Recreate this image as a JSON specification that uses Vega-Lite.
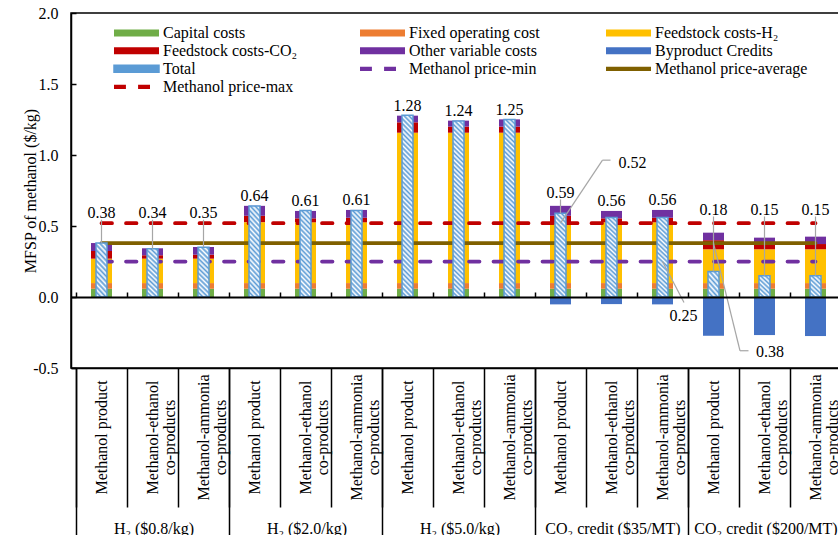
{
  "$schema": "https://vega.github.io/schema/vega-lite/v6.json",
  "width": 775,
  "height": 355,
  "autosize": {"type": "none"},
  "padding": {"left": 71, "top": 13, "right": -8, "bottom": 167},
  "background": "white",
  "config": {
    "font": "Liberation Serif",
    "view": {"stroke": "black", "strokeWidth": 1.5},
    "axis": {
      "labelFont": "Liberation Serif", "labelFontSize": 16, "labelColor": "black",
      "titleFont": "Liberation Serif", "titleFontSize": 16, "titleFontWeight": "normal", "titleColor": "black",
      "domainColor": "black", "tickColor": "black", "grid": false
    },
    "text": {"font": "Liberation Serif", "fontSize": 16, "color": "black"}
  },
  "datasets": {
    "costs": [
      {"case": 1, "Capital costs": 0.058, "Fixed operating cost": 0.040, "Feedstock costs-H₂": 0.172, "Feedstock costs-CO₂": 0.054, "Other variable costs": 0.056, "Byproduct Credits": 0, "total": 0.38},
      {"case": 2, "Capital costs": 0.058, "Fixed operating cost": 0.040, "Feedstock costs-H₂": 0.172, "Feedstock costs-CO₂": 0.024, "Other variable costs": 0.049, "Byproduct Credits": 0, "total": 0.34},
      {"case": 3, "Capital costs": 0.058, "Fixed operating cost": 0.040, "Feedstock costs-H₂": 0.172, "Feedstock costs-CO₂": 0.028, "Other variable costs": 0.054, "Byproduct Credits": 0, "total": 0.35},
      {"case": 4, "Capital costs": 0.058, "Fixed operating cost": 0.040, "Feedstock costs-H₂": 0.429, "Feedstock costs-CO₂": 0.045, "Other variable costs": 0.070, "Byproduct Credits": 0, "total": 0.64},
      {"case": 5, "Capital costs": 0.058, "Fixed operating cost": 0.040, "Feedstock costs-H₂": 0.428, "Feedstock costs-CO₂": 0.028, "Other variable costs": 0.052, "Byproduct Credits": 0, "total": 0.61},
      {"case": 6, "Capital costs": 0.058, "Fixed operating cost": 0.040, "Feedstock costs-H₂": 0.428, "Feedstock costs-CO₂": 0.032, "Other variable costs": 0.055, "Byproduct Credits": 0, "total": 0.61},
      {"case": 7, "Capital costs": 0.058, "Fixed operating cost": 0.040, "Feedstock costs-H₂": 1.059, "Feedstock costs-CO₂": 0.073, "Other variable costs": 0.047, "Byproduct Credits": 0, "total": 1.28},
      {"case": 8, "Capital costs": 0.058, "Fixed operating cost": 0.040, "Feedstock costs-H₂": 1.059, "Feedstock costs-CO₂": 0.043, "Other variable costs": 0.042, "Byproduct Credits": 0, "total": 1.24},
      {"case": 9, "Capital costs": 0.058, "Fixed operating cost": 0.040, "Feedstock costs-H₂": 1.059, "Feedstock costs-CO₂": 0.043, "Other variable costs": 0.051, "Byproduct Credits": 0, "total": 1.25},
      {"case": 10, "Capital costs": 0.058, "Fixed operating cost": 0.040, "Feedstock costs-H₂": 0.429, "Feedstock costs-CO₂": 0.045, "Other variable costs": 0.070, "Byproduct Credits": -0.052, "total": 0.59},
      {"case": 11, "Capital costs": 0.058, "Fixed operating cost": 0.040, "Feedstock costs-H₂": 0.428, "Feedstock costs-CO₂": 0.028, "Other variable costs": 0.052, "Byproduct Credits": -0.050, "total": 0.56},
      {"case": 12, "Capital costs": 0.058, "Fixed operating cost": 0.040, "Feedstock costs-H₂": 0.428, "Feedstock costs-CO₂": 0.032, "Other variable costs": 0.055, "Byproduct Credits": -0.052, "total": 0.56},
      {"case": 13, "Capital costs": 0.058, "Fixed operating cost": 0.040, "Feedstock costs-H₂": 0.238, "Feedstock costs-CO₂": 0.064, "Other variable costs": 0.053, "Byproduct Credits": -0.273, "total": 0.18},
      {"case": 14, "Capital costs": 0.058, "Fixed operating cost": 0.040, "Feedstock costs-H₂": 0.238, "Feedstock costs-CO₂": 0.037, "Other variable costs": 0.045, "Byproduct Credits": -0.268, "total": 0.15},
      {"case": 15, "Capital costs": 0.058, "Fixed operating cost": 0.040, "Feedstock costs-H₂": 0.238, "Feedstock costs-CO₂": 0.037, "Other variable costs": 0.052, "Byproduct Credits": -0.275, "total": 0.15}
    ],
    "prices": [
      {"series": "Methanol price-min", "value": 0.25, "first": 1, "last": 15, "labelled": 12},
      {"series": "Methanol price-average", "value": 0.38, "first": 1, "last": 15, "labelled": 13},
      {"series": "Methanol price-max", "value": 0.52, "first": 1, "last": 15, "labelled": 10}
    ]
  },
  "resolve": {"axis": {"x": "independent", "y": "independent"}},
  "layer": [
    {
      "data": {"name": "costs"},
      "transform": [
        {"fold": ["Capital costs", "Fixed operating cost", "Feedstock costs-H₂", "Feedstock costs-CO₂", "Other variable costs", "Byproduct Credits"], "as": ["comp", "cost"]},
        {"filter": "datum.cost != 0"},
        {"calculate": "indexof(['Capital costs', 'Fixed operating cost', 'Feedstock costs-H₂', 'Feedstock costs-CO₂', 'Other variable costs', 'Byproduct Credits'], datum.comp)", "as": "stack_order"}
      ],
      "mark": {"type": "bar", "size": 21},
      "encoding": {
        "x": {
          "field": "case", "type": "quantitative",
          "scale": {"domain": [0.5, 15.5], "nice": false, "zero": false},
          "axis": {
            "orient": "bottom", "title": null,
            "values": [0.5, 1.5, 2.5, 3.5, 4.5, 5.5, 6.5, 7.5, 8.5, 9.5, 10.5, 11.5, 12.5, 13.5, 14.5, 15.5],
            "domain": true, "domainWidth": 1.5, "ticks": true, "tickSize": 139, "tickWidth": 1.5,
            "labelExpr": "datum.value > 15 ? '' : split(['Methanol product', 'Methanol-ethanol|co-products', 'Methanol-ammonia|co-products'][floor(datum.value) % 3], '|')",
            "labelAngle": -90, "labelAlign": "center", "labelBaseline": "middle",
            "labelOffset": 25.83, "labelPadding": -70, "labelLineHeight": 17,
            "labelOverlap": false, "labelFlush": false, "labelBound": false, "labelLimit": 250
          }
        },
        "y": {
          "field": "cost", "type": "quantitative", "stack": "zero",
          "scale": {"domain": [-0.5, 2], "nice": false, "zero": false},
          "axis": {
            "orient": "left", "title": "MFSP of methanol ($/kg)",
            "values": [-0.5, 0, 0.5, 1, 1.5, 2],
            "labelExpr": "datum.value < 0 ? '-' + format(-datum.value, '.1f') : format(datum.value, '.1f')",
            "domainWidth": 1.5, "tickSize": -5, "tickWidth": 1.5, "labelPadding": 18, "titlePadding": -6
          }
        },
        "color": {
          "field": "comp", "type": "nominal",
          "scale": {
            "domain": ["Capital costs", "Feedstock costs-CO₂", "Total", "Methanol price-max", "Fixed operating cost", "Other variable costs", "Methanol price-min", " ", "Feedstock costs-H₂", "Byproduct Credits", "Methanol price-average", "  "],
            "range": ["#70AD47", "#C00000", "#5B9BD5", "#C00000", "#ED7D31", "#7030A0", "#7030A0", "#FFFFFF", "#FFC000", "#4472C4", "#7F6000", "#FFFFFF"]
          },
          "legend": {
            "title": null, "orient": "none", "legendX": 42, "legendY": 11,
            "columns": 3, "gridAlign": "all", "columnPadding": 43, "rowPadding": 0, "clipHeight": 17.7, "padding": 0,
            "symbolSize": 2025, "symbolStrokeWidth": 1.5, "symbolOffset": 0, "symbolType": "M-1,-0.155H1V0.155H-1Z",
            "labelOffset": 3, "labelFont": "Liberation Serif", "labelFontSize": 16, "labelColor": "black", "labelLimit": 250,
            "encode": {
              "symbols": {
                "update": {
                  "shape": {"signal": "datum.value === 'Methanol price-min' || datum.value === 'Methanol price-max' ? 'M-1,-0.09H-0.47V0.09H-1Z M0.07,-0.09H0.6V0.09H0.07Z' : (datum.value === 'Methanol price-average' ? 'M-1,-0.09H1V0.09H-1Z' : 'M-1,-0.155H1V0.155H-1Z')"},
                  "fill": {"signal": "datum.value === 'Total' ? {gradient: 'linear', x1: 0, y1: 1, x2: 1.128, y2: 0.8245, stops: [{offset: 0, color: '#5B9BD5'}, {offset: 0.05, color: '#FFFFFF'}, {offset: 0.1, color: '#5B9BD5'}, {offset: 0.15, color: '#FFFFFF'}, {offset: 0.2, color: '#5B9BD5'}, {offset: 0.25, color: '#FFFFFF'}, {offset: 0.3, color: '#5B9BD5'}, {offset: 0.35, color: '#FFFFFF'}, {offset: 0.4, color: '#5B9BD5'}, {offset: 0.45, color: '#FFFFFF'}, {offset: 0.5, color: '#5B9BD5'}, {offset: 0.55, color: '#FFFFFF'}, {offset: 0.6, color: '#5B9BD5'}, {offset: 0.65, color: '#FFFFFF'}, {offset: 0.7, color: '#5B9BD5'}, {offset: 0.75, color: '#FFFFFF'}, {offset: 0.8, color: '#5B9BD5'}, {offset: 0.85, color: '#FFFFFF'}, {offset: 0.9, color: '#5B9BD5'}, {offset: 0.95, color: '#FFFFFF'}, {offset: 1, color: '#5B9BD5'}]} : ((datum.value === ' ' || datum.value === '  ') ? 'transparent' : scale('color', datum.value))"},
                  "stroke": {"signal": "datum.value === 'Total' ? '#5B9BD5' : 'transparent'"},
                  "opacity": {"value": 1}
                }
              }
            }
          }
        },
        "order": {"field": "stack_order", "type": "quantitative"}
      }
    },
    {
      "data": {"name": "prices"},
      "mark": {"type": "rule", "strokeWidth": 3.75, "strokeCap": "round"},
      "encoding": {
        "x": {
          "field": "first", "type": "quantitative",
          "scale": {"domain": [0.5, 15.5], "nice": false, "zero": false},
          "axis": {
            "orient": "top", "offset": -284, "title": null, "labels": false,
            "values": [0.5, 1.5, 2.5, 3.5, 4.5, 5.5, 6.5, 7.5, 8.5, 9.5, 10.5, 11.5, 12.5, 13.5, 14.5, 15.5],
            "tickSize": 5, "tickWidth": 1.5, "domainWidth": 2, "zindex": 1
          }
        },
        "x2": {"field": "last"},
        "y": {"field": "value", "type": "quantitative", "scale": {"domain": [-0.5, 2], "nice": false, "zero": false}, "axis": null},
        "color": {
          "condition": [
            {"test": "datum.series === 'Methanol price-min'", "value": "#7030A0"},
            {"test": "datum.series === 'Methanol price-average'", "value": "#7F6000"}
          ],
          "value": "#C00000"
        },
        "strokeDash": {"condition": {"test": "datum.series === 'Methanol price-average'", "value": [1, 0]}, "value": [10.5, 14]}
      }
    },
    {
      "data": {"name": "costs"},
      "transform": [{"filter": {"field": "case", "oneOf": [7, 8, 9]}}],
      "mark": {
        "type": "bar", "size": 11, "stroke": "#5B9BD5", "strokeWidth": 1.5,
        "fill": {"gradient": "linear", "x1": 0, "y1": 1, "x2": 0.065, "y2": -0.058, "stops": [
          {"offset": 0, "color": "#5B9BD5"}, {"offset": 0.0125, "color": "#FFFFFF"}, {"offset": 0.025, "color": "#5B9BD5"}, {"offset": 0.0375, "color": "#FFFFFF"},
          {"offset": 0.05, "color": "#5B9BD5"}, {"offset": 0.0625, "color": "#FFFFFF"}, {"offset": 0.075, "color": "#5B9BD5"}, {"offset": 0.0875, "color": "#FFFFFF"},
          {"offset": 0.1, "color": "#5B9BD5"}, {"offset": 0.1125, "color": "#FFFFFF"}, {"offset": 0.125, "color": "#5B9BD5"}, {"offset": 0.1375, "color": "#FFFFFF"},
          {"offset": 0.15, "color": "#5B9BD5"}, {"offset": 0.1625, "color": "#FFFFFF"}, {"offset": 0.175, "color": "#5B9BD5"}, {"offset": 0.1875, "color": "#FFFFFF"},
          {"offset": 0.2, "color": "#5B9BD5"}, {"offset": 0.2125, "color": "#FFFFFF"}, {"offset": 0.225, "color": "#5B9BD5"}, {"offset": 0.2375, "color": "#FFFFFF"},
          {"offset": 0.25, "color": "#5B9BD5"}, {"offset": 0.2625, "color": "#FFFFFF"}, {"offset": 0.275, "color": "#5B9BD5"}, {"offset": 0.2875, "color": "#FFFFFF"},
          {"offset": 0.3, "color": "#5B9BD5"}, {"offset": 0.3125, "color": "#FFFFFF"}, {"offset": 0.325, "color": "#5B9BD5"}, {"offset": 0.3375, "color": "#FFFFFF"},
          {"offset": 0.35, "color": "#5B9BD5"}, {"offset": 0.3625, "color": "#FFFFFF"}, {"offset": 0.375, "color": "#5B9BD5"}, {"offset": 0.3875, "color": "#FFFFFF"},
          {"offset": 0.4, "color": "#5B9BD5"}, {"offset": 0.4125, "color": "#FFFFFF"}, {"offset": 0.425, "color": "#5B9BD5"}, {"offset": 0.4375, "color": "#FFFFFF"},
          {"offset": 0.45, "color": "#5B9BD5"}, {"offset": 0.4625, "color": "#FFFFFF"}, {"offset": 0.475, "color": "#5B9BD5"}, {"offset": 0.4875, "color": "#FFFFFF"},
          {"offset": 0.5, "color": "#5B9BD5"}, {"offset": 0.5125, "color": "#FFFFFF"}, {"offset": 0.525, "color": "#5B9BD5"}, {"offset": 0.5375, "color": "#FFFFFF"},
          {"offset": 0.55, "color": "#5B9BD5"}, {"offset": 0.5625, "color": "#FFFFFF"}, {"offset": 0.575, "color": "#5B9BD5"}, {"offset": 0.5875, "color": "#FFFFFF"},
          {"offset": 0.6, "color": "#5B9BD5"}, {"offset": 0.6125, "color": "#FFFFFF"}, {"offset": 0.625, "color": "#5B9BD5"}, {"offset": 0.6375, "color": "#FFFFFF"},
          {"offset": 0.65, "color": "#5B9BD5"}, {"offset": 0.6625, "color": "#FFFFFF"}, {"offset": 0.675, "color": "#5B9BD5"}, {"offset": 0.6875, "color": "#FFFFFF"},
          {"offset": 0.7, "color": "#5B9BD5"}, {"offset": 0.7125, "color": "#FFFFFF"}, {"offset": 0.725, "color": "#5B9BD5"}, {"offset": 0.7375, "color": "#FFFFFF"},
          {"offset": 0.75, "color": "#5B9BD5"}, {"offset": 0.7625, "color": "#FFFFFF"}, {"offset": 0.775, "color": "#5B9BD5"}, {"offset": 0.7875, "color": "#FFFFFF"},
          {"offset": 0.8, "color": "#5B9BD5"}, {"offset": 0.8125, "color": "#FFFFFF"}, {"offset": 0.825, "color": "#5B9BD5"}, {"offset": 0.8375, "color": "#FFFFFF"},
          {"offset": 0.85, "color": "#5B9BD5"}, {"offset": 0.8625, "color": "#FFFFFF"}, {"offset": 0.875, "color": "#5B9BD5"}, {"offset": 0.8875, "color": "#FFFFFF"},
          {"offset": 0.9, "color": "#5B9BD5"}, {"offset": 0.9125, "color": "#FFFFFF"}, {"offset": 0.925, "color": "#5B9BD5"}, {"offset": 0.9375, "color": "#FFFFFF"},
          {"offset": 0.95, "color": "#5B9BD5"}, {"offset": 0.9625, "color": "#FFFFFF"}, {"offset": 0.975, "color": "#5B9BD5"}, {"offset": 0.9875, "color": "#FFFFFF"},
          {"offset": 1, "color": "#5B9BD5"}
        ]}
      },
      "encoding": {
        "x": {
          "field": "case", "type": "quantitative",
          "scale": {"domain": [0.5, 15.5], "nice": false, "zero": false},
          "axis": {
            "orient": "bottom", "title": null,
            "values": [0.5, 3.5, 6.5, 9.5, 12.5, 15.5],
            "domain": false, "tickSize": 175, "tickWidth": 1.5,
            "labelExpr": "datum.value > 15 ? '' : ['H₂ ($0.8/kg)', 'H₂ ($2.0/kg)', 'H₂ ($5.0/kg)', 'CO₂ credit  ($35/MT)', 'CO₂ credit  ($200/MT)'][floor(datum.value / 3)]",
            "labelAngle": 0, "labelAlign": "center", "labelBaseline": "middle",
            "labelOffset": 77.5, "labelPadding": -15,
            "labelOverlap": false, "labelFlush": false, "labelBound": false, "labelLimit": 300
          }
        },
        "y": {"field": "total", "type": "quantitative", "scale": {"domain": [-0.5, 2], "nice": false, "zero": false}, "axis": null},
        "y2": {"datum": 0}
      }
    },
    {
      "data": {"name": "costs"},
      "transform": [{"filter": {"field": "case", "oneOf": [4, 5, 6, 10, 11, 12]}}],
      "mark": {
        "type": "bar", "size": 11, "stroke": "#5B9BD5", "strokeWidth": 1.5,
        "fill": {"gradient": "linear", "x1": 0, "y1": 1, "x2": 0.145, "y2": -0.111, "stops": [
          {"offset": 0, "color": "#5B9BD5"}, {"offset": 0.025, "color": "#FFFFFF"}, {"offset": 0.05, "color": "#5B9BD5"}, {"offset": 0.075, "color": "#FFFFFF"},
          {"offset": 0.1, "color": "#5B9BD5"}, {"offset": 0.125, "color": "#FFFFFF"}, {"offset": 0.15, "color": "#5B9BD5"}, {"offset": 0.175, "color": "#FFFFFF"},
          {"offset": 0.2, "color": "#5B9BD5"}, {"offset": 0.225, "color": "#FFFFFF"}, {"offset": 0.25, "color": "#5B9BD5"}, {"offset": 0.275, "color": "#FFFFFF"},
          {"offset": 0.3, "color": "#5B9BD5"}, {"offset": 0.325, "color": "#FFFFFF"}, {"offset": 0.35, "color": "#5B9BD5"}, {"offset": 0.375, "color": "#FFFFFF"},
          {"offset": 0.4, "color": "#5B9BD5"}, {"offset": 0.425, "color": "#FFFFFF"}, {"offset": 0.45, "color": "#5B9BD5"}, {"offset": 0.475, "color": "#FFFFFF"},
          {"offset": 0.5, "color": "#5B9BD5"}, {"offset": 0.525, "color": "#FFFFFF"}, {"offset": 0.55, "color": "#5B9BD5"}, {"offset": 0.575, "color": "#FFFFFF"},
          {"offset": 0.6, "color": "#5B9BD5"}, {"offset": 0.625, "color": "#FFFFFF"}, {"offset": 0.65, "color": "#5B9BD5"}, {"offset": 0.675, "color": "#FFFFFF"},
          {"offset": 0.7, "color": "#5B9BD5"}, {"offset": 0.725, "color": "#FFFFFF"}, {"offset": 0.75, "color": "#5B9BD5"}, {"offset": 0.775, "color": "#FFFFFF"},
          {"offset": 0.8, "color": "#5B9BD5"}, {"offset": 0.825, "color": "#FFFFFF"}, {"offset": 0.85, "color": "#5B9BD5"}, {"offset": 0.875, "color": "#FFFFFF"},
          {"offset": 0.9, "color": "#5B9BD5"}, {"offset": 0.925, "color": "#FFFFFF"}, {"offset": 0.95, "color": "#5B9BD5"}, {"offset": 0.975, "color": "#FFFFFF"},
          {"offset": 1, "color": "#5B9BD5"}
        ]}
      },
      "encoding": {
        "x": {"field": "case", "type": "quantitative", "scale": {"domain": [0.5, 15.5], "nice": false, "zero": false}, "axis": null},
        "y": {"field": "total", "type": "quantitative", "scale": {"domain": [-0.5, 2], "nice": false, "zero": false}, "axis": null},
        "y2": {"datum": 0}
      }
    },
    {
      "data": {"name": "costs"},
      "transform": [{"filter": {"field": "case", "oneOf": [1, 2, 3]}}],
      "mark": {
        "type": "bar", "size": 11, "stroke": "#5B9BD5", "strokeWidth": 1.5,
        "fill": {"gradient": "linear", "x1": 0, "y1": 1, "x2": 0.252, "y2": -0.163, "stops": [
          {"offset": 0, "color": "#5B9BD5"}, {"offset": 0.04, "color": "#FFFFFF"}, {"offset": 0.08, "color": "#5B9BD5"}, {"offset": 0.12, "color": "#FFFFFF"},
          {"offset": 0.16, "color": "#5B9BD5"}, {"offset": 0.2, "color": "#FFFFFF"}, {"offset": 0.24, "color": "#5B9BD5"}, {"offset": 0.28, "color": "#FFFFFF"},
          {"offset": 0.32, "color": "#5B9BD5"}, {"offset": 0.36, "color": "#FFFFFF"}, {"offset": 0.4, "color": "#5B9BD5"}, {"offset": 0.44, "color": "#FFFFFF"},
          {"offset": 0.48, "color": "#5B9BD5"}, {"offset": 0.52, "color": "#FFFFFF"}, {"offset": 0.56, "color": "#5B9BD5"}, {"offset": 0.6, "color": "#FFFFFF"},
          {"offset": 0.64, "color": "#5B9BD5"}, {"offset": 0.68, "color": "#FFFFFF"}, {"offset": 0.72, "color": "#5B9BD5"}, {"offset": 0.76, "color": "#FFFFFF"},
          {"offset": 0.8, "color": "#5B9BD5"}, {"offset": 0.84, "color": "#FFFFFF"}, {"offset": 0.88, "color": "#5B9BD5"}, {"offset": 0.92, "color": "#FFFFFF"},
          {"offset": 0.96, "color": "#5B9BD5"}, {"offset": 1, "color": "#FFFFFF"}
        ]}
      },
      "encoding": {
        "x": {"field": "case", "type": "quantitative", "scale": {"domain": [0.5, 15.5], "nice": false, "zero": false}, "axis": null},
        "y": {"field": "total", "type": "quantitative", "scale": {"domain": [-0.5, 2], "nice": false, "zero": false}, "axis": null},
        "y2": {"datum": 0}
      }
    },
    {
      "data": {"name": "costs"},
      "transform": [{"filter": {"field": "case", "oneOf": [13, 14, 15]}}],
      "mark": {
        "type": "bar", "size": 11, "stroke": "#5B9BD5", "strokeWidth": 1.5,
        "fill": {"gradient": "linear", "x1": 0, "y1": 1, "x2": 0.583, "y2": -0.203, "stops": [
          {"offset": 0, "color": "#5B9BD5"}, {"offset": 0.0714, "color": "#FFFFFF"}, {"offset": 0.1429, "color": "#5B9BD5"}, {"offset": 0.2143, "color": "#FFFFFF"},
          {"offset": 0.2857, "color": "#5B9BD5"}, {"offset": 0.3571, "color": "#FFFFFF"}, {"offset": 0.4286, "color": "#5B9BD5"}, {"offset": 0.5, "color": "#FFFFFF"},
          {"offset": 0.5714, "color": "#5B9BD5"}, {"offset": 0.6429, "color": "#FFFFFF"}, {"offset": 0.7143, "color": "#5B9BD5"}, {"offset": 0.7857, "color": "#FFFFFF"},
          {"offset": 0.8571, "color": "#5B9BD5"}, {"offset": 0.9286, "color": "#FFFFFF"}, {"offset": 1, "color": "#5B9BD5"}
        ]}
      },
      "encoding": {
        "x": {"field": "case", "type": "quantitative", "scale": {"domain": [0.5, 15.5], "nice": false, "zero": false}, "axis": null},
        "y": {"field": "total", "type": "quantitative", "scale": {"domain": [-0.5, 2], "nice": false, "zero": false}, "axis": null},
        "y2": {"datum": 0}
      }
    },
    {
      "data": {"name": "costs"},
      "transform": [
        {"filter": "indexof([1, 2, 3, 10, 13, 14, 15], datum.case) >= 0"},
        {"calculate": "datum.case <= 3 ? 0.592 : (datum.case == 10 ? 0.735 : 0.615)", "as": "label_at"},
        {"calculate": "datum.label_at - 0.048", "as": "leader_top"}
      ],
      "mark": {"type": "rule", "color": "#A6A6A6", "strokeWidth": 1.2},
      "encoding": {
        "x": {"field": "case", "type": "quantitative", "scale": {"domain": [0.5, 15.5], "nice": false, "zero": false}, "axis": null},
        "y": {"field": "leader_top", "type": "quantitative", "scale": {"domain": [-0.5, 2], "nice": false, "zero": false}, "axis": null},
        "y2": {"field": "total"}
      }
    },
    {
      "data": {"name": "costs"},
      "transform": [
        {"calculate": "max(datum['Capital costs'] + datum['Fixed operating cost'] + datum['Feedstock costs-H₂'] + datum['Feedstock costs-CO₂'] + datum['Other variable costs'], datum.total)", "as": "top"},
        {"calculate": "datum.case <= 3 ? 0.592 : (datum.case == 10 ? 0.735 : (datum.case >= 13 ? 0.615 : datum.top + 0.068))", "as": "label_at"}
      ],
      "mark": {"type": "text", "align": "center", "baseline": "middle"},
      "encoding": {
        "x": {"field": "case", "type": "quantitative", "scale": {"domain": [0.5, 15.5], "nice": false, "zero": false}, "axis": null},
        "y": {"field": "label_at", "type": "quantitative", "scale": {"domain": [-0.5, 2], "nice": false, "zero": false}, "axis": null},
        "text": {"field": "total", "type": "quantitative", "format": ".2f"}
      }
    },
    {
      "data": {"name": "prices"},
      "transform": [{"filter": "datum.series === 'Methanol price-max'"}],
      "mark": {"type": "rule", "color": "#A6A6A6", "strokeWidth": 1.2, "x2Offset": 42, "y2Offset": -63},
      "encoding": {
        "x": {"field": "labelled", "type": "quantitative", "scale": {"domain": [0.5, 15.5], "nice": false, "zero": false}, "axis": null},
        "x2": {"field": "labelled"},
        "y": {"field": "value", "type": "quantitative", "scale": {"domain": [-0.5, 2], "nice": false, "zero": false}, "axis": null},
        "y2": {"field": "value"}
      }
    },
    {
      "data": {"name": "prices"},
      "transform": [{"filter": "datum.series === 'Methanol price-max'"}],
      "mark": {"type": "rule", "color": "#A6A6A6", "strokeWidth": 1.2, "xOffset": 42, "yOffset": -63, "x2Offset": 50, "y2Offset": -63},
      "encoding": {
        "x": {"field": "labelled", "type": "quantitative", "scale": {"domain": [0.5, 15.5], "nice": false, "zero": false}, "axis": null},
        "x2": {"field": "labelled"},
        "y": {"field": "value", "type": "quantitative", "scale": {"domain": [-0.5, 2], "nice": false, "zero": false}, "axis": null},
        "y2": {"field": "value"}
      }
    },
    {
      "data": {"name": "prices"},
      "transform": [{"filter": "datum.series === 'Methanol price-max'"}],
      "mark": {"type": "text", "align": "left", "baseline": "middle", "dx": 58, "dy": -60},
      "encoding": {
        "x": {"field": "labelled", "type": "quantitative", "scale": {"domain": [0.5, 15.5], "nice": false, "zero": false}, "axis": null},
        "y": {"field": "value", "type": "quantitative", "scale": {"domain": [-0.5, 2], "nice": false, "zero": false}, "axis": null},
        "text": {"field": "value", "type": "quantitative", "format": ".2f"}
      }
    },
    {
      "data": {"name": "prices"},
      "transform": [{"filter": "datum.series === 'Methanol price-min'"}],
      "mark": {"type": "rule", "color": "#A6A6A6", "strokeWidth": 1.2, "x2Offset": 21.5, "y2Offset": 41},
      "encoding": {
        "x": {"field": "labelled", "type": "quantitative", "scale": {"domain": [0.5, 15.5], "nice": false, "zero": false}, "axis": null},
        "x2": {"field": "labelled"},
        "y": {"field": "value", "type": "quantitative", "scale": {"domain": [-0.5, 2], "nice": false, "zero": false}, "axis": null},
        "y2": {"field": "value"}
      }
    },
    {
      "data": {"name": "prices"},
      "transform": [{"filter": "datum.series === 'Methanol price-min'"}],
      "mark": {"type": "text", "align": "center", "baseline": "middle", "dx": 21, "dy": 54.5},
      "encoding": {
        "x": {"field": "labelled", "type": "quantitative", "scale": {"domain": [0.5, 15.5], "nice": false, "zero": false}, "axis": null},
        "y": {"field": "value", "type": "quantitative", "scale": {"domain": [-0.5, 2], "nice": false, "zero": false}, "axis": null},
        "text": {"field": "value", "type": "quantitative", "format": ".2f"}
      }
    },
    {
      "data": {"name": "prices"},
      "transform": [{"filter": "datum.series === 'Methanol price-average'"}],
      "mark": {"type": "rule", "color": "#A6A6A6", "strokeWidth": 1.2, "x2Offset": 26.5, "y2Offset": 107.7},
      "encoding": {
        "x": {"field": "labelled", "type": "quantitative", "scale": {"domain": [0.5, 15.5], "nice": false, "zero": false}, "axis": null},
        "x2": {"field": "labelled"},
        "y": {"field": "value", "type": "quantitative", "scale": {"domain": [-0.5, 2], "nice": false, "zero": false}, "axis": null},
        "y2": {"field": "value"}
      }
    },
    {
      "data": {"name": "prices"},
      "transform": [{"filter": "datum.series === 'Methanol price-average'"}],
      "mark": {"type": "rule", "color": "#A6A6A6", "strokeWidth": 1.2, "xOffset": 26.5, "yOffset": 107.7, "x2Offset": 35, "y2Offset": 107.7},
      "encoding": {
        "x": {"field": "labelled", "type": "quantitative", "scale": {"domain": [0.5, 15.5], "nice": false, "zero": false}, "axis": null},
        "x2": {"field": "labelled"},
        "y": {"field": "value", "type": "quantitative", "scale": {"domain": [-0.5, 2], "nice": false, "zero": false}, "axis": null},
        "y2": {"field": "value"}
      }
    },
    {
      "data": {"name": "prices"},
      "transform": [{"filter": "datum.series === 'Methanol price-average'"}],
      "mark": {"type": "text", "align": "left", "baseline": "middle", "dx": 42.5, "dy": 109},
      "encoding": {
        "x": {"field": "labelled", "type": "quantitative", "scale": {"domain": [0.5, 15.5], "nice": false, "zero": false}, "axis": null},
        "y": {"field": "value", "type": "quantitative", "scale": {"domain": [-0.5, 2], "nice": false, "zero": false}, "axis": null},
        "text": {"field": "value", "type": "quantitative", "format": ".2f"}
      }
    }
  ]
}
